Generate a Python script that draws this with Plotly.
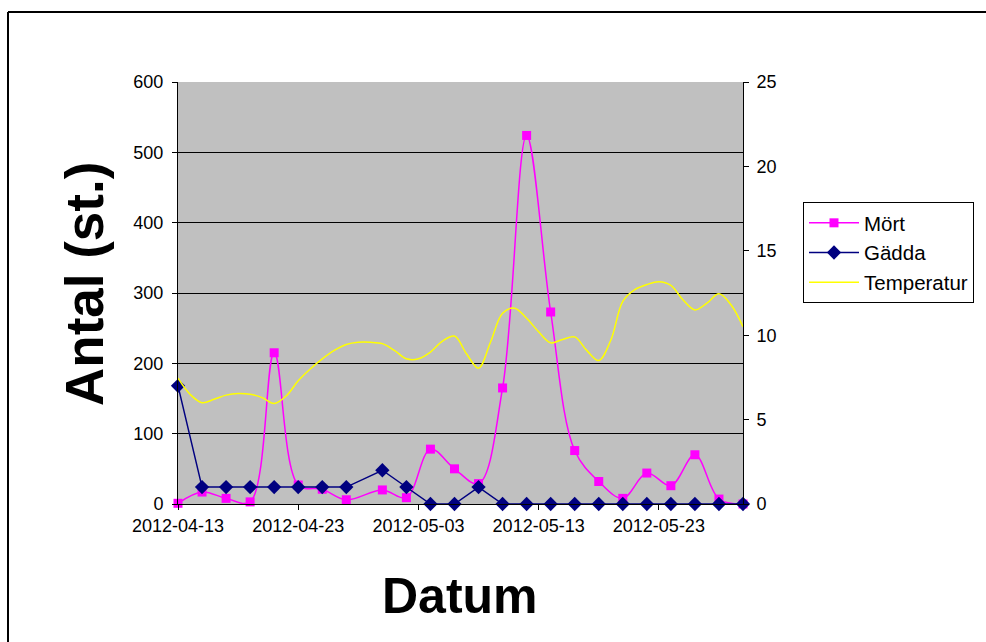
import plotly.graph_objects as go
import pandas as pd

# Sampling dates (days after 2012-04-13)
sample_days = [0, 2, 4, 6, 8, 10, 12, 14, 17, 19, 21, 23, 25, 27, 29, 31, 33, 35, 37, 39, 41, 43, 45, 47]
mort = [1, 17, 8, 3, 215, 27, 21, 6, 20, 9, 78, 50, 29, 165, 524, 273, 76, 32, 8, 44, 26, 70, 7, 0]
gadda = [7, 1, 1, 1, 1, 1, 1, 1, 2, 1, 0, 0, 1, 0, 0, 0, 0, 0, 0, 0, 0, 0, 0, 0]

# Daily temperature
temp_days = list(range(48))
temperatur = [7.45, 6.5, 6.0, 6.2, 6.45, 6.55, 6.5, 6.3, 5.95, 6.4,
              7.3, 8.0, 8.6, 9.1, 9.45, 9.58, 9.58, 9.5, 9.1, 8.6,
              8.6, 9.0, 9.65, 9.95, 8.9, 8.05, 9.6, 11.3, 11.6, 11.0,
              10.2, 9.55, 9.75, 9.9, 9.1, 8.5, 9.7, 12.0, 12.7, 13.0,
              13.17, 12.95, 12.1, 11.5, 11.9, 12.45, 11.8, 10.5]

start = pd.Timestamp("2012-04-13")
x_sample = [start + pd.Timedelta(days=d) for d in sample_days]
x_temp = [start + pd.Timedelta(days=d) for d in temp_days]

FONT = "Liberation Sans, Arial, sans-serif"

fig = go.Figure()
fig.add_trace(go.Scatter(
    x=x_sample, y=mort, name="Mört", mode="lines+markers",
    line=dict(color="#FF00FF", width=1.5, shape="spline", smoothing=1),
    marker=dict(symbol="square", size=9, color="#FF00FF"),
    cliponaxis=False, legendgroup="a"))
fig.add_trace(go.Scatter(
    x=x_sample, y=gadda, name="Gädda", mode="lines+markers", yaxis="y2",
    line=dict(color="#000080", width=1.5),
    marker=dict(symbol="diamond", size=11, color="#000080"),
    cliponaxis=False, legendgroup="b"))
fig.add_trace(go.Scatter(
    x=x_temp, y=temperatur, name="Temperatur", mode="lines", yaxis="y2",
    line=dict(color="#FFFF00", width=1.5, shape="spline", smoothing=1),
    legendgroup="c"))

L, R, T, B = 178, 743, 82, 504
W, H = 986, 642
pw, ph = R - L, B - T

def px(x):
    return (x - L) / pw

def py(y):
    return (B - y) / ph

fig.update_layout(
    width=W, height=H,
    margin=dict(l=L, r=W - R, t=T, b=H - B, pad=0, autoexpand=False),
    paper_bgcolor="white", plot_bgcolor="#C0C0C0",
    font=dict(family=FONT, color="black", size=18),
    showlegend=True,
    legend=dict(x=px(803), y=py(202), xanchor="left", yanchor="top",
                bordercolor="black", borderwidth=1, bgcolor="white",
                font=dict(size=20.5, family=FONT), tracegroupgap=0,
                itemwidth=50),
    xaxis=dict(type="date", range=[start, start + pd.Timedelta(days=47)],
               tick0=start, dtick=10 * 86400000, tickformat="%Y-%m-%d",
               showgrid=False, showline=True, linecolor="black", linewidth=1,
               ticks="outside", ticklen=5, tickcolor="black", automargin=False,
               tickfont=dict(size=18), zeroline=False, mirror=False),
    yaxis=dict(range=[0, 600], dtick=100, showgrid=True, gridcolor="black",
               gridwidth=1, showline=True, linecolor="black", linewidth=1,
               ticks="outside", ticklen=5, tickcolor="black", automargin=False,
               tickfont=dict(size=18), zeroline=False, ticklabelstandoff=5),
    yaxis2=dict(range=[0, 25], dtick=5, overlaying="y", side="right",
                showgrid=False, showline=True, linecolor="black", linewidth=1,
                ticks="outside", ticklen=5, tickcolor="black", automargin=False,
                tickfont=dict(size=18), zeroline=False, ticklabelstandoff=4),
    annotations=[
        dict(text="<b>Antal (st.)</b>", x=px(84), y=py(284), xref="paper", yref="paper",
             textangle=-90, showarrow=False, xanchor="center", yanchor="middle",
             font=dict(size=53, family=FONT)),
        dict(text="<b>Datum</b>", x=px(460), y=py(596), xref="paper", yref="paper",
             showarrow=False, xanchor="center", yanchor="middle",
             font=dict(size=50, family=FONT)),
    ],
    shapes=[
        dict(type="line", xref="paper", yref="paper", x0=px(8), x1=px(986),
             y0=py(12), y1=py(12), line=dict(color="black", width=2)),
        dict(type="line", xref="paper", yref="paper", x0=px(8), x1=px(8),
             y0=py(12), y1=py(642), line=dict(color="black", width=2)),
    ],
)

fig.write_html("out.html")
